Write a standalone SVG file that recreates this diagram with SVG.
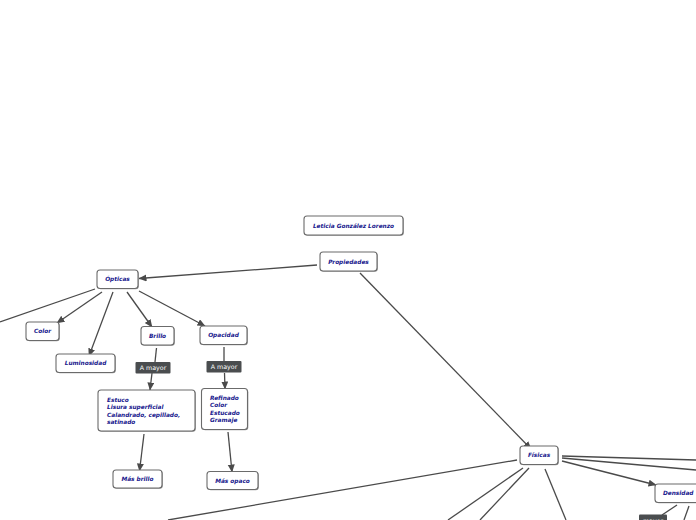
<svg xmlns="http://www.w3.org/2000/svg" width="696" height="520" viewBox="0 0 696 520">
<style>
.bx{fill:#ffffff;stroke:#6b6b6b;stroke-width:1.1}
.sh{fill:#9a9a9a}
.t{font-family:"DejaVu Sans",Verdana,sans-serif;font-size:5.8px;font-weight:bold;font-style:italic;fill:#16168c}
.lb{fill:#4a4d4f}
.lt{font-family:"DejaVu Sans",Verdana,sans-serif;font-size:6.3px;fill:#ffffff}
.c{stroke:#4a4a4a;stroke-width:1.3;fill:none}
.a{marker-end:url(#ar)}
</style>
<defs>
<marker id="ar" markerUnits="userSpaceOnUse" markerWidth="9" markerHeight="8" refX="7.5" refY="3.5" orient="auto">
<path d="M0,0 L8,3.5 L0,7 Z" fill="#4a4a4a"/>
</marker>
</defs>
<rect width="696" height="520" fill="#ffffff"/>
<g id="connectors">
<line class="c a" x1="317" y1="265" x2="139" y2="278.5"/>
<line class="c a" x1="360" y1="273" x2="531" y2="449"/>
<line class="c" x1="95" y1="289" x2="0" y2="322"/>
<line class="c a" x1="102" y1="292" x2="57" y2="323"/>
<line class="c a" x1="113" y1="292" x2="89" y2="356"/>
<line class="c a" x1="127" y1="292" x2="152" y2="327"/>
<line class="c a" x1="139" y1="291" x2="205" y2="326"/>
<line class="c" x1="156.5" y1="348" x2="155" y2="362"/>
<line class="c a" x1="152" y1="373" x2="150" y2="390"/>
<line class="c" x1="224" y1="347" x2="224" y2="361"/>
<line class="c a" x1="224.5" y1="373" x2="225" y2="389"/>
<line class="c a" x1="144" y1="434" x2="139.5" y2="471"/>
<line class="c a" x1="228" y1="432" x2="232" y2="472"/>
<line class="c" x1="517" y1="460" x2="168" y2="520"/>
<line class="c" x1="523" y1="468" x2="448" y2="520"/>
<line class="c" x1="529" y1="468" x2="480" y2="520"/>
<line class="c" x1="545" y1="469" x2="566" y2="520"/>
<line class="c" x1="562" y1="456" x2="696" y2="460"/>
<line class="c" x1="562" y1="458" x2="696" y2="470"/>
<line class="c a" x1="562" y1="461" x2="656" y2="485"/>
<line class="c" x1="677" y1="505" x2="662" y2="515"/>
<line class="c" x1="689" y1="506" x2="684" y2="520"/>
</g>
<g id="n-leticia">
<rect class="sh" x="304.8" y="216.8" width="99" height="19" rx="3"/>
<rect class="bx" x="304" y="216" width="99" height="19" rx="3"/>
<text class="t" x="353.5" y="227.6" text-anchor="middle">Leticia González Lorenzo</text>
</g>
<g id="n-propiedades">
<rect class="sh" x="320.8" y="252.8" width="57" height="19" rx="3"/>
<rect class="bx" x="320" y="252" width="57" height="19" rx="3"/>
<text class="t" x="348.5" y="263.6" text-anchor="middle">Propiedades</text>
</g>
<g id="n-opticas">
<rect class="sh" x="97.8" y="270.8" width="41" height="18.5" rx="3"/>
<rect class="bx" x="97" y="270" width="41" height="18.5" rx="3"/>
<text class="t" x="117.5" y="281.4" text-anchor="middle">Ópticas</text>
</g>
<g id="n-color">
<rect class="sh" x="26.8" y="322.8" width="33" height="18.5" rx="3"/>
<rect class="bx" x="26" y="322" width="33" height="18.5" rx="3"/>
<text class="t" x="42.5" y="333.4" text-anchor="middle">Color</text>
</g>
<g id="n-luminosidad">
<rect class="sh" x="56.8" y="354.8" width="59" height="18.5" rx="3"/>
<rect class="bx" x="56" y="354" width="59" height="18.5" rx="3"/>
<text class="t" x="85.5" y="365.4" text-anchor="middle">Luminosidad</text>
</g>
<g id="n-brillo">
<rect class="sh" x="141.8" y="327.3" width="33" height="18.5" rx="3"/>
<rect class="bx" x="141" y="326.5" width="33" height="18.5" rx="3"/>
<text class="t" x="157.5" y="337.9" text-anchor="middle">Brillo</text>
</g>
<g id="n-opacidad">
<rect class="sh" x="200.8" y="326.8" width="47" height="18.5" rx="3"/>
<rect class="bx" x="200" y="326" width="47" height="18.5" rx="3"/>
<text class="t" x="223.5" y="337.4" text-anchor="middle">Opacidad</text>
</g>
<g id="l-amayor1">
<rect class="lb" x="135.5" y="362" width="35" height="11.5" rx="1"/>
<text class="lt" x="153" y="370" text-anchor="middle">A mayor</text>
</g>
<g id="l-amayor2">
<rect class="lb" x="206.5" y="361" width="35" height="11.5" rx="1"/>
<text class="lt" x="224" y="369" text-anchor="middle">A mayor</text>
</g>
<g id="n-estuco">
<rect class="sh" x="98.8" y="390.8" width="97" height="41" rx="3"/>
<rect class="bx" x="98" y="390" width="97" height="41" rx="3"/>
<text class="t" x="107" y="401.5">Estuco</text>
<text class="t" x="107" y="409">Lisura superficial</text>
<text class="t" x="107" y="416.5">Calandrado, cepillado,</text>
<text class="t" x="107" y="424">satinado</text>
</g>
<g id="n-refinado">
<rect class="sh" x="202.3" y="389.3" width="46" height="41" rx="3"/>
<rect class="bx" x="201.5" y="388.5" width="46" height="41" rx="3"/>
<text class="t" x="210" y="399.5">Refinado</text>
<text class="t" x="210" y="407">Color</text>
<text class="t" x="210" y="414.5">Estucado</text>
<text class="t" x="210" y="422">Gramaje</text>
</g>
<g id="n-masbrillo">
<rect class="sh" x="113.8" y="470.8" width="49" height="18" rx="3"/>
<rect class="bx" x="113" y="470" width="49" height="18" rx="3"/>
<text class="t" x="137.5" y="481.2" text-anchor="middle">Más brillo</text>
</g>
<g id="n-masopaco">
<rect class="sh" x="207.8" y="472.3" width="51" height="18" rx="3"/>
<rect class="bx" x="207" y="471.5" width="51" height="18" rx="3"/>
<text class="t" x="232.5" y="482.7" text-anchor="middle">Más opaco</text>
</g>
<g id="n-fisicas">
<rect class="sh" x="520.8" y="446.8" width="38" height="18.5" rx="3"/>
<rect class="bx" x="520" y="446" width="38" height="18.5" rx="3"/>
<text class="t" x="539" y="457.4" text-anchor="middle">Físicas</text>
</g>
<g id="n-densidad">
<rect class="sh" x="655.8" y="484.8" width="52" height="18.5" rx="3"/>
<rect class="bx" x="655" y="484" width="52" height="18.5" rx="3"/>
<text class="t" x="663" y="495.4">Densidad</text>
</g>
<g id="l-mayor">
<rect class="lb" x="639" y="514.5" width="28" height="11.5" rx="1"/>
<text class="lt" x="653" y="522.5" text-anchor="middle">mayor</text>
</g>
</svg>
